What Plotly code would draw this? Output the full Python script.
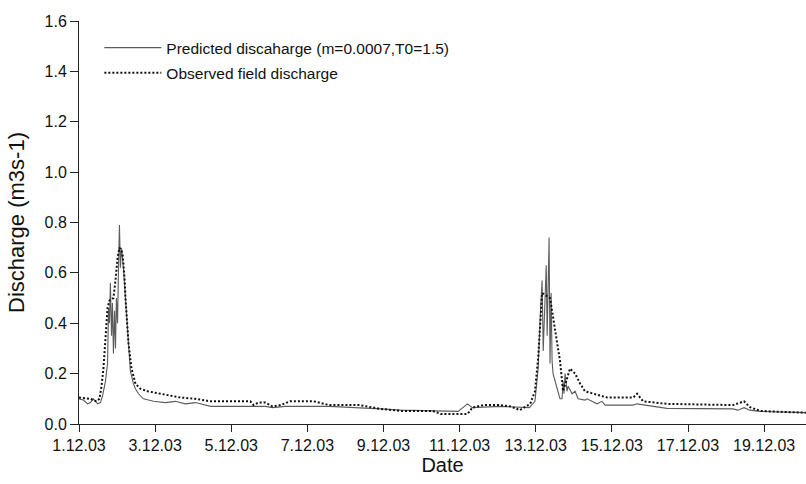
import pandas as pd
import plotly.graph_objects as go

# hours since 1 Dec 2003 00:00
pred_hours = [0, 2.8, 5.4, 7.2, 9.1, 10.4, 11.7, 13.5, 14.8, 16.7, 18.0, 18.6, 19.2, 19.8, 20.5,
              21.1, 21.7, 22.4, 23.0, 23.6, 24.3, 24.9, 25.5, 26.1, 26.8, 28.0, 29.3, 30.6, 32.4,
              34.3, 35.6, 37.5, 40.6, 47, 54.5, 60.8, 67, 73.4, 79.7, 83, 108, 117.5, 122, 130,
              158, 177, 190, 203, 228, 239, 245, 248, 265.5, 278, 284, 287.5, 289.5, 291, 292,
              292.7, 294, 294.6, 295.2, 295.8, 296.4, 297, 297.7, 298.3, 298.9, 301.5, 303.3,
              304.6, 305.2, 305.8, 306.5, 307.7, 308.4, 310.9, 312.8, 314.7, 319, 320.4, 326.6,
              329.8, 331.7, 349.4, 351.9, 357, 370.7, 412.3, 415.5, 419.3, 423, 429.3, 443.8, 458.3]
pred_values = [0.10, 0.095, 0.08, 0.085, 0.10, 0.09, 0.08, 0.085, 0.11, 0.17, 0.24, 0.46, 0.40, 0.56, 0.35,
               0.48, 0.28, 0.45, 0.30, 0.50, 0.40, 0.62, 0.79, 0.62, 0.70, 0.62, 0.50, 0.36, 0.21,
               0.16, 0.14, 0.12, 0.10, 0.09, 0.085, 0.09, 0.08, 0.085, 0.075, 0.07, 0.07, 0.07, 0.065, 0.07,
               0.07, 0.065, 0.06, 0.055, 0.05, 0.05, 0.08, 0.065, 0.07, 0.065, 0.065, 0.09, 0.22, 0.45, 0.57,
               0.29, 0.50, 0.63, 0.35, 0.55, 0.74, 0.24, 0.52, 0.25, 0.20, 0.14, 0.10,
               0.10, 0.17, 0.12, 0.20, 0.13, 0.15, 0.12, 0.13, 0.10, 0.095, 0.10, 0.08,
               0.09, 0.075, 0.075, 0.08, 0.075, 0.062, 0.06, 0.055, 0.065, 0.055, 0.05, 0.047, 0.045]

obs_hours = [0, 7.2, 11, 12.9, 14.2, 15.4, 16.7, 18.0, 19.2, 21.7, 23, 24.3, 25.5, 27.4, 28.7, 29.3,
             31.2, 33.1, 35.6, 38.7, 43.2, 51.3, 57.6, 64, 73.4, 83, 108, 110, 113, 117.5, 122, 127,
             133, 148, 158, 177, 190, 203, 223, 228, 245, 248, 255, 265.5, 272, 278, 284.5, 287.5,
             289.5, 291.5, 292, 297, 298.9, 301.5, 303.3, 304.6, 305.2, 307.7, 309.6, 312.8, 316,
             319, 324, 333, 349.4, 351.9, 355.7, 370.7, 412.3, 419.3, 423, 429.3, 443.8, 458.3]
obs_values = [0.105, 0.10, 0.09, 0.10, 0.15, 0.22, 0.34, 0.46, 0.49, 0.50, 0.57, 0.66, 0.70, 0.68, 0.58, 0.50,
              0.32, 0.22, 0.16, 0.14, 0.13, 0.12, 0.11, 0.105, 0.10, 0.09, 0.09, 0.075, 0.085, 0.085, 0.07, 0.075,
              0.09, 0.09, 0.075, 0.075, 0.06, 0.052, 0.052, 0.04, 0.04, 0.065, 0.075, 0.075, 0.07, 0.055, 0.08, 0.13,
              0.26, 0.49, 0.52, 0.50, 0.42, 0.33, 0.25, 0.17, 0.13, 0.18, 0.22, 0.20, 0.16,
              0.13, 0.12, 0.105, 0.105, 0.12, 0.09, 0.08, 0.075, 0.09, 0.067, 0.052, 0.048, 0.045]

tick_dates = ["2003-12-01", "2003-12-03", "2003-12-05", "2003-12-07", "2003-12-09",
              "2003-12-11", "2003-12-13", "2003-12-15", "2003-12-17", "2003-12-19"]
tick_labels = ["1.12.03", "3.12.03", "5.12.03", "7.12.03", "9.12.03",
               "11.12.03", "13.12.03", "15.12.03", "17.12.03", "19.12.03"]
y_ticks = [0.0, 0.2, 0.4, 0.6, 0.8, 1.0, 1.2, 1.4, 1.6]

start = pd.Timestamp("2003-12-01")
pred_x = start + pd.to_timedelta(pred_hours, unit="h")
obs_x = start + pd.to_timedelta(obs_hours, unit="h")

fig = go.Figure()
fig.add_trace(go.Scatter(x=pred_x, y=pred_values, mode="lines",
                         name="Predicted discaharge (m=0.0007,T0=1.5)",
                         line=dict(color="#5c5c5c", width=1.1), legendgroup="a"))
fig.add_trace(go.Scatter(x=obs_x, y=obs_values, mode="lines",
                         name="Observed field discharge",
                         line=dict(color="#111111", width=2, dash="2px,2px"), legendgroup="b"))

font = "Liberation Sans, Arial, sans-serif"
fig.update_layout(
    width=806, height=484,
    margin=dict(l=79, r=0, t=21, b=60),
    paper_bgcolor="white", plot_bgcolor="white",
    font=dict(family=font, size=16, color="#111111"),
    showlegend=True,
    legend=dict(x=0.028, y=0.975, xanchor="left", yanchor="top",
                bgcolor="rgba(0,0,0,0)", font=dict(size=15.5, family=font),
                itemwidth=57, tracegroupgap=2, traceorder="grouped"),
    xaxis=dict(
        type="date", automargin=False,
        range=[start, start + pd.Timedelta(hours=458.4)],
        tickvals=pd.to_datetime(tick_dates), ticktext=tick_labels,
        ticks="outside", ticklen=7, tickwidth=1, tickcolor="#222222",
        showline=True, linecolor="#222222", linewidth=1,
        showgrid=False, zeroline=False,
        title=dict(text="Date", font=dict(size=20), standoff=4),
        tickfont=dict(size=16),
    ),
    yaxis=dict(
        range=[0, 1.6], automargin=False,
        tickvals=y_ticks, ticktext=[f"{v:.1f}" for v in y_ticks],
        ticks="outside", ticklen=8, tickwidth=1, tickcolor="#222222",
        showline=True, linecolor="#222222", linewidth=1,
        showgrid=False, zeroline=False,
        title=dict(text="Discharge (m3s-1)", font=dict(size=22), standoff=13),
        tickfont=dict(size=16),
    ),
)

fig.write_html("out.html", config={"displayModeBar": False},
               post_script="document.body.style.margin='0';document.body.style.overflow='hidden';")
